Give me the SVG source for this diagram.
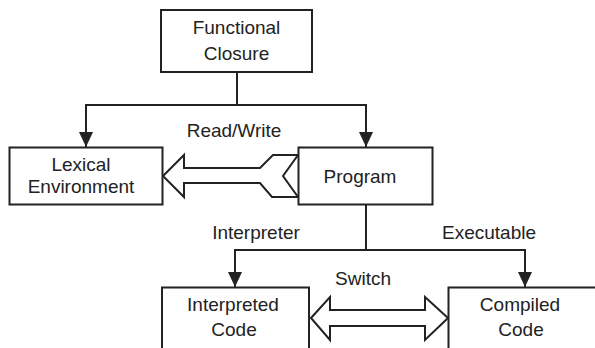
<svg xmlns="http://www.w3.org/2000/svg" width="595" height="348" viewBox="0 0 595 348">
<style>
.box{fill:#fff;stroke:#222;stroke-width:2}
.ln{fill:none;stroke:#222;stroke-width:2}
.hollow{fill:#fff;stroke:#222;stroke-width:2;stroke-linejoin:miter}
text{font-family:"Liberation Sans",Arial,sans-serif;font-size:19px;fill:#222;text-anchor:middle}
</style>
<defs>
<marker id="ah" markerUnits="userSpaceOnUse" markerWidth="16" markerHeight="16" viewBox="0 0 16 16" refX="15" refY="8" orient="auto">
<path d="M0,1 L15,8 L0,15 Z" fill="#222"/>
</marker>
</defs>
<rect width="595" height="348" fill="#fff"/>
<g id="connectors">
<path class="ln" d="M237,72 V105"/>
<path class="ln" d="M237,105 H86 V147" marker-end="url(#ah)"/>
<path class="ln" d="M237,105 H366 V147" marker-end="url(#ah)"/>
<path class="ln" d="M366,204 V250"/>
<path class="ln" d="M366,250 H235 V287" marker-end="url(#ah)"/>
<path class="ln" d="M366,250 H525 V287" marker-end="url(#ah)"/>
<path class="hollow" d="M163,176 L184,155 L184,168 L260,168 L273,155 L298,155 L283,176 L298,197 L272,197 L260,183 L184,183 L184,197 Z"/>
<path class="hollow" d="M311,318 L330,297 L330,310 L425,310 L425,297 L448,318 L425,340 L425,326 L330,326 L330,340 Z"/>
<text x="234" y="137">Read/Write</text>
<text x="256" y="239">Interpreter</text>
<text x="489" y="239">Executable</text>
<text x="363" y="285">Switch</text>
</g>
<g id="functional-closure">
<rect class="box" x="161" y="10" width="151" height="62"/>
<text x="236.5" y="34">Functional</text>
<text x="236.5" y="60">Closure</text>
</g>
<g id="lexical-environment">
<rect class="box" x="9.5" y="147.5" width="153" height="57"/>
<text x="81" y="171">Lexical</text>
<text x="81" y="193">Environment</text>
</g>
<g id="program">
<rect class="box" x="298.5" y="147.5" width="134" height="57"/>
<text x="360" y="183">Program</text>
</g>
<g id="interpreted-code">
<rect class="box" x="162" y="287.5" width="147" height="62"/>
<text x="233" y="311">Interpreted</text>
<text x="234" y="336">Code</text>
</g>
<g id="compiled-code">
<rect class="box" x="448.5" y="287.5" width="160" height="62"/>
<text x="520" y="311">Compiled</text>
<text x="521" y="336">Code</text>
</g>
</svg>
